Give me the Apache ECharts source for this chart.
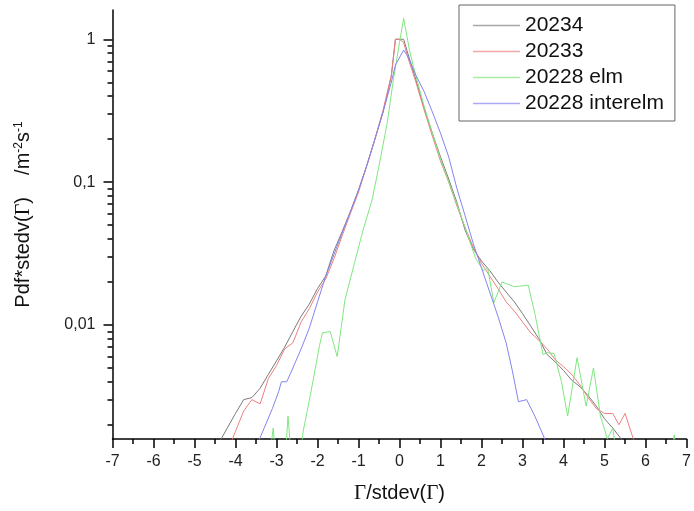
<!DOCTYPE html>
<html><head><meta charset="utf-8">
<script src="https://cdn.jsdelivr.net/npm/echarts@6/dist/echarts.min.js"></script>
<style>html,body{margin:0;padding:0;background:#fff}#c{width:694px;height:511px}</style>
</head><body><div id="c"></div>
<script>
// ---- data (x = Γ/stdev(Γ), y = Pdf*stdev) ----
const s20234 = [[-4.6,0.0011],[-4.4,0.0015],[-4.2,0.0019],[-4.0,0.0024],[-3.8,0.0030],[-3.6,0.0031],[-3.4,0.0036],[-3.2,0.0045],[-3.0,0.0056],[-2.8,0.0070],[-2.6,0.0090],[-2.4,0.0115],[-2.2,0.014],[-2.0,0.018],[-1.8,0.022],[-1.6,0.033],[-1.4,0.045],[-1.2,0.062],[-1.0,0.088],[-0.8,0.13],[-0.6,0.20],[-0.4,0.31],[-0.2,0.55],[-0.1,1.0],[0.1,1.0],[0.2,0.80],[0.4,0.52],[0.6,0.33],[0.8,0.22],[1.0,0.15],[1.2,0.105],[1.4,0.072],[1.6,0.046],[1.8,0.034],[2.0,0.028],[2.2,0.024],[2.4,0.020],[2.6,0.017],[2.8,0.0145],[3.0,0.012],[3.2,0.0098],[3.4,0.0080],[3.6,0.0062],[3.8,0.0055],[4.0,0.0048],[4.2,0.0041],[4.4,0.0037],[4.6,0.0032],[4.8,0.0027],[5.0,0.0022],[5.2,0.0019],[5.4,0.0016],[5.6,0.0013]];
const s20233 = [[-4.2,0.0013],[-4.0,0.0018],[-3.8,0.0025],[-3.6,0.0030],[-3.4,0.0028],[-3.2,0.0042],[-3.0,0.0052],[-2.8,0.0068],[-2.6,0.0075],[-2.4,0.0105],[-2.2,0.013],[-2.0,0.017],[-1.8,0.021],[-1.6,0.029],[-1.4,0.042],[-1.2,0.060],[-1.0,0.085],[-0.8,0.13],[-0.6,0.20],[-0.4,0.32],[-0.2,0.56],[-0.1,1.0],[0.0,1.0],[0.1,0.95],[0.2,0.75],[0.4,0.50],[0.6,0.32],[0.8,0.21],[1.0,0.14],[1.2,0.10],[1.4,0.068],[1.6,0.048],[1.8,0.035],[2.0,0.027],[2.2,0.022],[2.4,0.018],[2.6,0.0145],[2.8,0.0125],[3.0,0.0105],[3.2,0.0088],[3.4,0.0078],[3.6,0.0068],[3.8,0.0057],[4.0,0.0051],[4.2,0.0045],[4.4,0.0038],[4.6,0.0031],[4.8,0.0026],[5.0,0.0024],[5.2,0.0024],[5.35,0.0020],[5.5,0.0024],[5.7,0.0016],[5.9,0.0012]];
const s20228elm = [[-3.2,0.0010],[-3.08,0.0019],[-3.0,0.0010],[-2.8,0.0010],[-2.72,0.0023],[-2.62,0.0010],[-2.45,0.0010],[-2.35,0.0018],[-2.25,0.0025],[-2.1,0.0042],[-1.95,0.0072],[-1.88,0.0088],[-1.69,0.0090],[-1.52,0.0060],[-1.33,0.015],[-1.1,0.027],[-0.9,0.045],[-0.67,0.075],[-0.5,0.13],[-0.3,0.26],[-0.15,0.52],[0.0,0.95],[0.1,1.40],[0.25,0.82],[0.4,0.55],[0.6,0.34],[0.8,0.22],[1.0,0.145],[1.2,0.10],[1.4,0.07],[1.6,0.048],[1.86,0.029],[2.05,0.024],[2.15,0.025],[2.3,0.0143],[2.5,0.020],[2.8,0.0185],[3.14,0.0190],[3.3,0.012],[3.5,0.0062],[3.6,0.0064],[3.77,0.0063],[3.95,0.0040],[4.1,0.0023],[4.33,0.0059],[4.55,0.0027],[4.73,0.0050],[4.9,0.0023],[5.07,0.0016],[5.2,0.0019],[5.3,0.0012],[5.45,0.0014],[5.55,0.0011],[5.7,0.0015],[5.8,0.0010],[6.6,0.0010],[6.7,0.0017],[6.8,0.0010]];
const s20228inter = [[-3.45,0.0015],[-3.3,0.0019],[-3.1,0.0026],[-2.95,0.0034],[-2.88,0.0040],[-2.75,0.0040],[-2.6,0.0050],[-2.4,0.0068],[-2.2,0.0095],[-2.0,0.0145],[-1.8,0.022],[-1.6,0.031],[-1.4,0.044],[-1.2,0.062],[-1.0,0.088],[-0.8,0.13],[-0.6,0.20],[-0.4,0.31],[-0.2,0.50],[-0.1,0.66],[0.1,0.84],[0.2,0.76],[0.4,0.56],[0.6,0.43],[0.8,0.31],[1.0,0.22],[1.2,0.15],[1.4,0.09],[1.6,0.058],[1.8,0.037],[2.0,0.025],[2.2,0.017],[2.4,0.0115],[2.6,0.0075],[2.75,0.0048],[2.9,0.0029],[3.1,0.0030],[3.3,0.0023],[3.5,0.0017],[3.65,0.0013]];
const seriesNames = ['20234','20233','20228 elm','20228 interelm'];
const seriesColors = ['#7a7a7a','#ee8080','#80e680','#8484f0'];
const legendColors = ['#a8a8a8','#f0a8a8','#a8eca8','#aaaaf2'];
const yLabelValues = [0.01, 0.1, 1];
const yLabelTexts = {'0.01':'0,01','0.1':'0,1','1':'1'};
const yMinorValues = [0.002,0.003,0.004,0.005,0.006,0.007,0.008,0.009,0.02,0.03,0.04,0.05,0.06,0.07,0.08,0.09,0.2,0.3,0.4,0.5,0.6,0.7,0.8,0.9];
const yMin = 0.00159, yMax = 1.603;

const chart = echarts.init(document.getElementById('c'), null, {renderer:'canvas'});
const FONT = 'Liberation Sans, Arial, sans-serif';
const SERIF = 'Liberation Serif, Times New Roman, serif';
const dataSets = [s20234, s20233, s20228elm, s20228inter];

chart.setOption({
  animation: false,
  backgroundColor: '#fff',
  grid: {left: 112.5, right: 0.5, top: 10, bottom: 72, containLabel: false},
  legend: {
    orient: 'vertical', left: 459, top: 5,
    data: seriesNames.map((n, i) => ({name: n, icon: 'rect',
      itemStyle: {color: legendColors[i], borderWidth: 0, opacity: 1}})),
    itemWidth: 47, itemHeight: 1.5, itemGap: 5,
    padding: [10, 11, 7, 14],
    borderColor: '#666', borderWidth: 1,
    textStyle: {fontFamily: FONT, fontSize: 21, color: '#111'}
  },
  xAxis: {
    type: 'value', min: -7, max: 7, interval: 1,
    axisLine: {show: true, lineStyle: {color: '#000', width: 1.5}},
    axisTick: {show: true, inside: false, length: 9, lineStyle: {color: '#000', width: 1.5}},
    minorTick: {show: true, splitNumber: 2, length: 5, lineStyle: {color: '#000', width: 1.5}},
    splitLine: {show: false},
    axisLabel: {fontFamily: FONT, fontSize: 16, color: '#222', margin: 15},
    name: '{g|Γ}{a|/stdev(}{g|Γ}{a|)}',
    nameLocation: 'middle', nameGap: 44,
    nameTextStyle: {rich: {
      a: {fontFamily: FONT, fontSize: 20, color: '#111'},
      g: {fontFamily: SERIF, fontSize: 21, color: '#111'}
    }}
  },
  yAxis: [{
    type: 'log', min: yMin, max: yMax, logBase: 10,
    axisLine: {show: true, onZero: false, lineStyle: {color: '#000', width: 1.5}},
    axisTick: {show: true, inside: false, length: 9, customValues: yLabelValues, lineStyle: {color: '#000', width: 1.5}},
    splitLine: {show: false},
    minorTick: {show: false},
    axisLabel: {customValues: yLabelValues, fontFamily: FONT, fontSize: 16, color: '#222', margin: 17,
      formatter: v => yLabelTexts[String(+v.toPrecision(3))] || ''},
    name: '{a|Pdf*stedv(}{g|Γ}{a|)    /m}{s|-2}{a|s}{s|-1}',
    nameLocation: 'middle', nameGap: 78,
    nameTextStyle: {padding: [0, 0, 0, 20], rich: {
      a: {fontFamily: FONT, fontSize: 20, color: '#111', lineHeight: 22},
      g: {fontFamily: SERIF, fontSize: 20, color: '#111', lineHeight: 22},
      s: {fontFamily: FONT, fontSize: 12, color: '#111', verticalAlign: 'top', lineHeight: 22}
    }}
  }, {
    type: 'log', min: yMin, max: yMax, logBase: 10, position: 'left',
    axisLine: {show: false, onZero: false},
    axisTick: {show: true, inside: false, length: 5, customValues: yMinorValues, lineStyle: {color: '#000', width: 1.5}},
    axisLabel: {show: false},
    splitLine: {show: false}
  }],
  series: dataSets.map((d, i) => ({
    name: seriesNames[i], type: 'line', data: d, yAxisIndex: 0,
    symbol: 'none', clip: true, smooth: false,
    lineStyle: {color: seriesColors[i], width: 1},
    itemStyle: {color: seriesColors[i]}
  }))
});
</script></body></html>
